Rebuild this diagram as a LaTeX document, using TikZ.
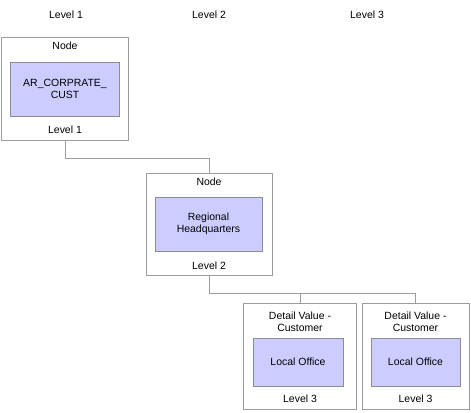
\documentclass[tikz,border=0pt]{standalone}
\usepackage{fontspec}
\setmainfont{Liberation Sans}
\usetikzlibrary{positioning}
\definecolor{boxline}{HTML}{9C9C9C}
\definecolor{innerfill}{HTML}{CCCCFF}
\definecolor{innerline}{HTML}{8C8C8C}
\begin{document}
\begin{tikzpicture}[x=1bp,y=-1bp,
        outer/.style={draw=boxline,line width=1bp,minimum width=#1,inner sep=0pt},
        inner/.style={draw=innerline,fill=innerfill,line width=1bp,align=center,inner sep=0pt},
        lbl/.style={font=\fontsize{10.5}{12.5}\selectfont,align=center,inner sep=0pt},
        link/.style={draw=boxline,line width=1bp}]

        \useasboundingbox (0,0) rectangle (471,412);

        %Header
        \node[lbl] (head1) at (66,15) {Level 1};
        \node[lbl] (head2) at (209,15) {Level 2};
        \node[lbl] (head3) at (367,15) {Level 3};

        %Level 1
        \node[outer=126bp,minimum height=103bp] (box1) at (65,88.5) {};
        \node[lbl] (type1) at (65,46) {Node};
        \node[inner,minimum width=108bp,minimum height=54bp] (val1) at (65,89) {};
        \node[lbl] at (val1) {AR\_CORPRATE\_\\CUST};
        \node[lbl] (lev1) at (65,130) {Level 1};

        %Level 2
        \node[outer=126bp,minimum height=102bp] (box2) at (209,224) {};
        \node[lbl] (type2) at (209,182) {Node};
        \node[inner,minimum width=107bp,minimum height=54bp] (val2) at (208.5,224) {};
        \node[lbl] at (val2) {Regional\\Headquarters};
        \node[lbl] (lev2) at (209,266) {Level 2};

        %Level 3 (left)
        \node[outer=113bp,minimum height=106bp] (box3) at (300,356) {};
        \node[lbl] (type3) at (300,322) {Detail Value -\\Customer};
        \node[inner,minimum width=90bp,minimum height=48bp] (val3) at (298,362) {};
        \node[lbl] at (val3) {Local Office};
        \node[lbl] (lev3) at (300,399) {Level 3};

        %Level 3 (right)
        \node[outer=107bp,minimum height=106bp] (box4) at (415.5,356) {};
        \node[lbl] (type4) at (415.5,322) {Detail Value -\\Customer};
        \node[inner,minimum width=89bp,minimum height=48bp] (val4) at (415.5,362) {};
        \node[lbl] at (val4) {Local Office};
        \node[lbl] (lev4) at (415.5,399) {Level 3};

        \coordinate (j1) at (box1.south|-0,158);
        \coordinate (j2) at (box2.south|-0,293);
        \draw[link] (box1.south) -- (j1) -| (box2.north);
        \draw[link] (box2.south) -- (j2) -| (box4.north);
        \draw[link] (j2) -| (box3.north);
    \end{tikzpicture}
\end{document}
